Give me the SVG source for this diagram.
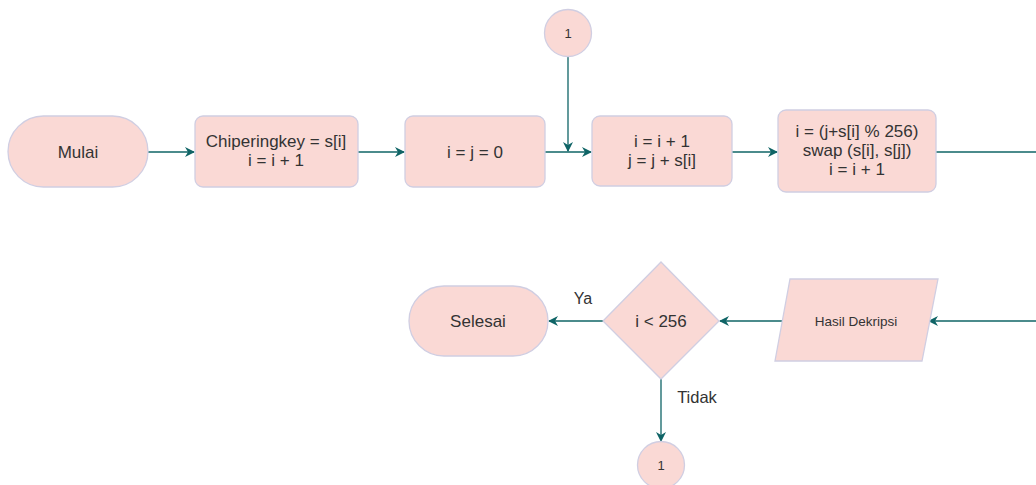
<svg xmlns="http://www.w3.org/2000/svg" width="1036" height="485" viewBox="0 0 1036 485">
<style>
.s{fill:#fad9d5;stroke:#d0cee2;stroke-width:1.3}
.t{font-family:"Liberation Sans",Arial,sans-serif;font-size:17px;fill:#333;text-anchor:middle}
.l{fill:none;stroke:#0f6466;stroke-width:1.3}
</style>
<defs>
<marker id="a" viewBox="0 0 10 10" refX="9" refY="5" markerWidth="10" markerHeight="10" markerUnits="userSpaceOnUse" orient="auto">
<path d="M0,0 L10,5 L0,10 L3,5 Z" fill="#0f6466"/>
</marker>
</defs>
<rect width="1036" height="485" fill="#fff"/>
<g id="connectors">
<path class="l" d="M148,152 H194" marker-end="url(#a)"/>
<path class="l" d="M358,152 H404" marker-end="url(#a)"/>
<path class="l" d="M545,152 H591" marker-end="url(#a)"/>
<path class="l" d="M568,57 V151" marker-end="url(#a)"/>
<path class="l" d="M732,152 H777" marker-end="url(#a)"/>
<path class="l" d="M936,152 H1036"/>
<path class="l" d="M1036,321 H929" marker-end="url(#a)"/>
<path class="l" d="M782,321 H720" marker-end="url(#a)"/>
<path class="l" d="M603,321 H549" marker-end="url(#a)"/>
<path class="l" d="M661,379 V441" marker-end="url(#a)"/>
<text class="t" x="583" y="304" style="font-size:16px">Ya</text>
<text class="t" x="697" y="403" style="font-size:16.5px">Tidak</text>
</g>
<g id="mulai"><rect class="s" x="8" y="116" width="140" height="71" rx="35.5"/><text class="t" x="78" y="158">Mulai</text></g>
<g id="chiper"><rect class="s" x="195" y="116" width="163" height="71" rx="8"/><text class="t" x="276" y="147">Chiperingkey = s[i]</text><text class="t" x="276" y="166">i = i + 1</text></g>
<g id="init"><rect class="s" x="405" y="116" width="140" height="71" rx="8"/><text class="t" x="475" y="158">i = j = 0</text></g>
<g id="c1top"><circle class="s" cx="568" cy="33" r="23.5"/><text class="t" x="568" y="37.5" style="font-size:13px">1</text></g>
<g id="inc"><rect class="s" x="592" y="116" width="140" height="70" rx="8"/><text class="t" x="662" y="147">i = i + 1</text><text class="t" x="662" y="166">j = j + s[i]</text></g>
<g id="swap"><rect class="s" x="778" y="110" width="158" height="82" rx="8"/><text class="t" x="857" y="137">i = (j+s[i] % 256)</text><text class="t" x="857" y="156">swap (s[i], s[j])</text><text class="t" x="857" y="175">i = i + 1</text></g>
<g id="hasil"><polygon class="s" points="790,279 938,279 922,361 775,361"/><text class="t" x="856" y="326" style="font-size:13.5px">Hasil Dekripsi</text></g>
<g id="cond"><polygon class="s" points="661,262 719,321 661,379 603,321"/><text class="t" x="661" y="327">i &lt; 256</text></g>
<g id="selesai"><rect class="s" x="409" y="286" width="139" height="70" rx="35"/><text class="t" x="478" y="327">Selesai</text></g>
<g id="c1bot"><circle class="s" cx="661" cy="465" r="23.5"/><text class="t" x="661" y="469.5" style="font-size:13px">1</text></g>
</svg>
